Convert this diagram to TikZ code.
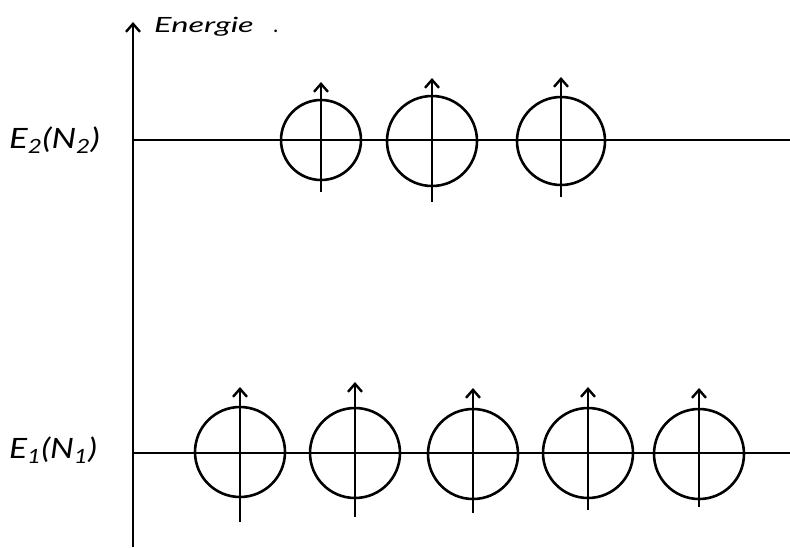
\documentclass[tikz,border=0pt]{standalone}
\usepackage{fontspec}
\setmainfont{Lato}
\usetikzlibrary{arrows.meta}
\begin{document}
\begin{tikzpicture}[x=1pt,y=-1pt, line width=2.4pt,
  spin/.style={draw, circle, inner sep=0pt, outer sep=0pt, minimum size=#1, line width=2.6pt},
  moment/.style={-{Straight Barb[length=8pt,width=14pt,line width=2.4pt]}, line width=2.4pt},
  lvl/.style={line width=2.4pt},
  lbl/.style={font=\itshape\fontsize{28}{30}\selectfont, inner sep=0pt, anchor=base west},
  axlbl/.style={font=\itshape\fontsize{21}{24}\selectfont, inner sep=0pt, anchor=base west}]
\useasboundingbox (0,0) rectangle (790,547);
\fill[white] (0,0) rectangle (790,547);
% axis
\coordinate (ybot) at (133,547);
\coordinate (ytop) at (133,22);
\draw[moment] (ybot) -- (ytop);
\node[axlbl] (en) at (153,32) {\scalebox{1.55}[1]{Energie}\hspace{20pt}.};
% levels
\coordinate (e2a) at (133,140);
\coordinate (e2b) at (790,140);
\coordinate (e1a) at (133,453);
\coordinate (e1b) at (790,453);
\draw[lvl] (e2a) -- (e2b);
\draw[lvl] (e1a) -- (e1b);
\node[lbl] (le2) at (8,148) {\scalebox{1.24}[1]{E\textsubscript{2}(N\textsubscript{2})}};
\node[lbl] (le1) at (8,458) {\scalebox{1.2}[1]{E\textsubscript{1}(N\textsubscript{1})}};
% upper level spins
\node[spin=80] (u1) at (321,140) {};
\node[spin=90] (u2) at (432,141) {};
\node[spin=88] (u3) at (561,141) {};
\draw[moment] ([yshift=-12pt]u1.south) -- ([yshift=18pt]u1.north);
\draw[moment] ([yshift=-16pt]u2.south) -- ([yshift=18pt]u2.north);
\draw[moment] ([yshift=-12pt]u3.south) -- ([yshift=20pt]u3.north);
% lower level spins
\node[spin=90] (d1) at (240,452) {};
\node[spin=90] (d2) at (355,453) {};
\node[spin=90] (d3) at (473,454) {};
\node[spin=90] (d4) at (588,453) {};
\node[spin=90] (d5) at (699,454) {};
\draw[moment] ([yshift=-25pt]d1.south) -- ([yshift=20pt]d1.north);
\draw[moment] ([yshift=-19pt]d2.south) -- ([yshift=26pt]d2.north);
\draw[moment] ([yshift=-14pt]d3.south) -- ([yshift=21pt]d3.north);
\draw[moment] ([yshift=-12pt]d4.south) -- ([yshift=21pt]d4.north);
\draw[moment] ([yshift=-8pt]d5.south) -- ([yshift=21pt]d5.north);
\end{tikzpicture}
\end{document}
